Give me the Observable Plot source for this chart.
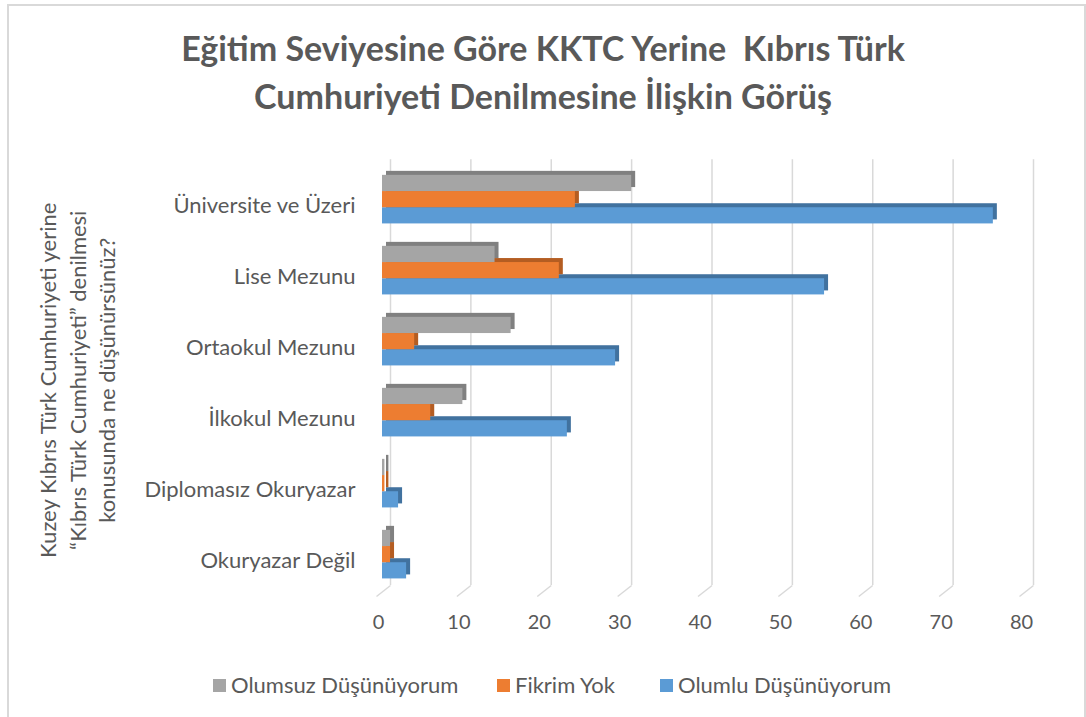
<!DOCTYPE html>
<html><head><meta charset="utf-8">
<script src="https://cdn.jsdelivr.net/npm/d3@7"></script>
<script src="https://cdn.jsdelivr.net/npm/@observablehq/plot@0.6"></script>
<style>
body{margin:0;background:#fff;}
#wrap{position:relative;width:1086px;height:717px;overflow:hidden;font-family:Lato,"Open Sans",sans-serif;color:#595959;}
#border{position:absolute;left:7px;top:4px;width:1079px;height:730px;border:2px solid #d9d9d9;box-sizing:border-box;}
#title{position:absolute;left:0;width:1086px;top:24px;text-align:center;font-weight:bold;font-size:34px;line-height:48px;}
#ytitle{position:absolute;left:-153px;top:336px;width:460px;text-align:center;font-size:22px;line-height:29.5px;transform:rotate(-90deg);transform-origin:center center;}
.leg{position:absolute;top:673px;display:flex;align-items:center;font-size:22px;white-space:nowrap;line-height:24px;}
.leg .sw{width:13px;height:13px;margin-right:5px;}
#chart{position:absolute;left:0;top:0;}
</style></head>
<body>
<div id="wrap">
<div id="border"></div>
<div id="chart"></div>
<div id="title">Eğitim Seviyesine Göre KKTC Yerine&nbsp; Kıbrıs Türk<br>Cumhuriyeti Denilmesine İlişkin Görüş</div>
<div id="ytitle">Kuzey Kıbrıs Türk Cumhuriyeti yerine<br>“Kıbrıs Türk Cumhuriyeti” denilmesi<br>konusunda ne düşünürsünüz?</div>
</div>
<script>
const categories = ["Üniversite ve Üzeri","Lise Mezunu","Ortaokul Mezunu","İlkokul Mezunu","Diplomasız Okuryazar","Okuryazar Değil"];
const seriesNames = ["Olumsuz Düşünüyorum","Fikrim Yok","Olumlu Düşünüyorum"];
const olumsuz = [31,14,16,10,0.3,1];
const fikrimYok = [24,22,4,6,0.3,1];
const olumlu = [76,55,29,23,2,3];
const xTicks = [0,10,20,30,40,50,60,70,80];
const colors = ["#a5a5a5","#ed7d31","#5b9bd5"];
const sideColors = ["#808080","#b45d22","#41729f"];

const seriesValues = [olumsuz, fikrimYok, olumlu];
const barH = 0.228, pad = 0.16;
const rows = [];
seriesValues.forEach((vals, k) => vals.forEach((v, i) => {
  const y1 = i + pad + k*barH;
  rows.push({k, cat: categories[i], value: v, y1, y2: y1 + barH});
}));

const marks = [];
marks.push(Plot.ruleX(xTicks, {x: d => d, y1: -0.06, y2: 5.937, dx: 8, stroke: "#d9d9d9", strokeWidth: 1.5}));
marks.push(Plot.link(xTicks, {x1: d => d + 8/8.04, y1: 5.937, x2: d => d - 6/8.04, y2: 6.092, stroke: "#d9d9d9", strokeWidth: 1.5}));
for (const k of [2,1,0]) {
  const data = rows.filter(r => r.k === k);
  marks.push(Plot.rectX(data, {x1: 0, x2: "value", y1: "y1", y2: "y2", fill: sideColors[k], dx: 4, dy: -4}));
  marks.push(Plot.rectX(data, {x1: 0, x2: "value", y1: "y1", y2: "y2", fill: colors[k]}));
}
marks.push(Plot.axisY({ticks: d3.range(categories.length).map(i => i + 0.5), tickFormat: v => categories[Math.floor(v)], tickSize: 0, tickPadding: 27, dy: 6, label: null, fontSize: 22}));
marks.push(Plot.axisX({ticks: xTicks, tickSize: 0, tickPadding: 25, dx: -4, label: null, fontSize: 20}));

const chart = Plot.plot({
  width: 1086, height: 717,
  marginLeft: 382, marginRight: 61, marginTop: 163.5, marginBottom: 127.5,
  x: {domain: [0, 80], range: [382, 1025]},
  y: {domain: [0, 6], range: [163.5, 589.5]},
  style: {fontSize: "20px", fontFamily: "Lato, 'Open Sans', sans-serif", color: "#595959", background: "transparent", overflow: "visible"},
  marks
});
document.getElementById("chart").appendChild(chart);

const legLefts = [213, 497, 660];
const wrap = document.getElementById("wrap");
seriesNames.forEach((n, k) => {
  const it = document.createElement("div"); it.className = "leg"; it.style.left = legLefts[k] + "px";
  const sw = document.createElement("div"); sw.className = "sw"; sw.style.background = colors[k];
  const t = document.createElement("span"); t.textContent = n;
  it.appendChild(sw); it.appendChild(t); wrap.appendChild(it);
});
</script>
</body></html>
